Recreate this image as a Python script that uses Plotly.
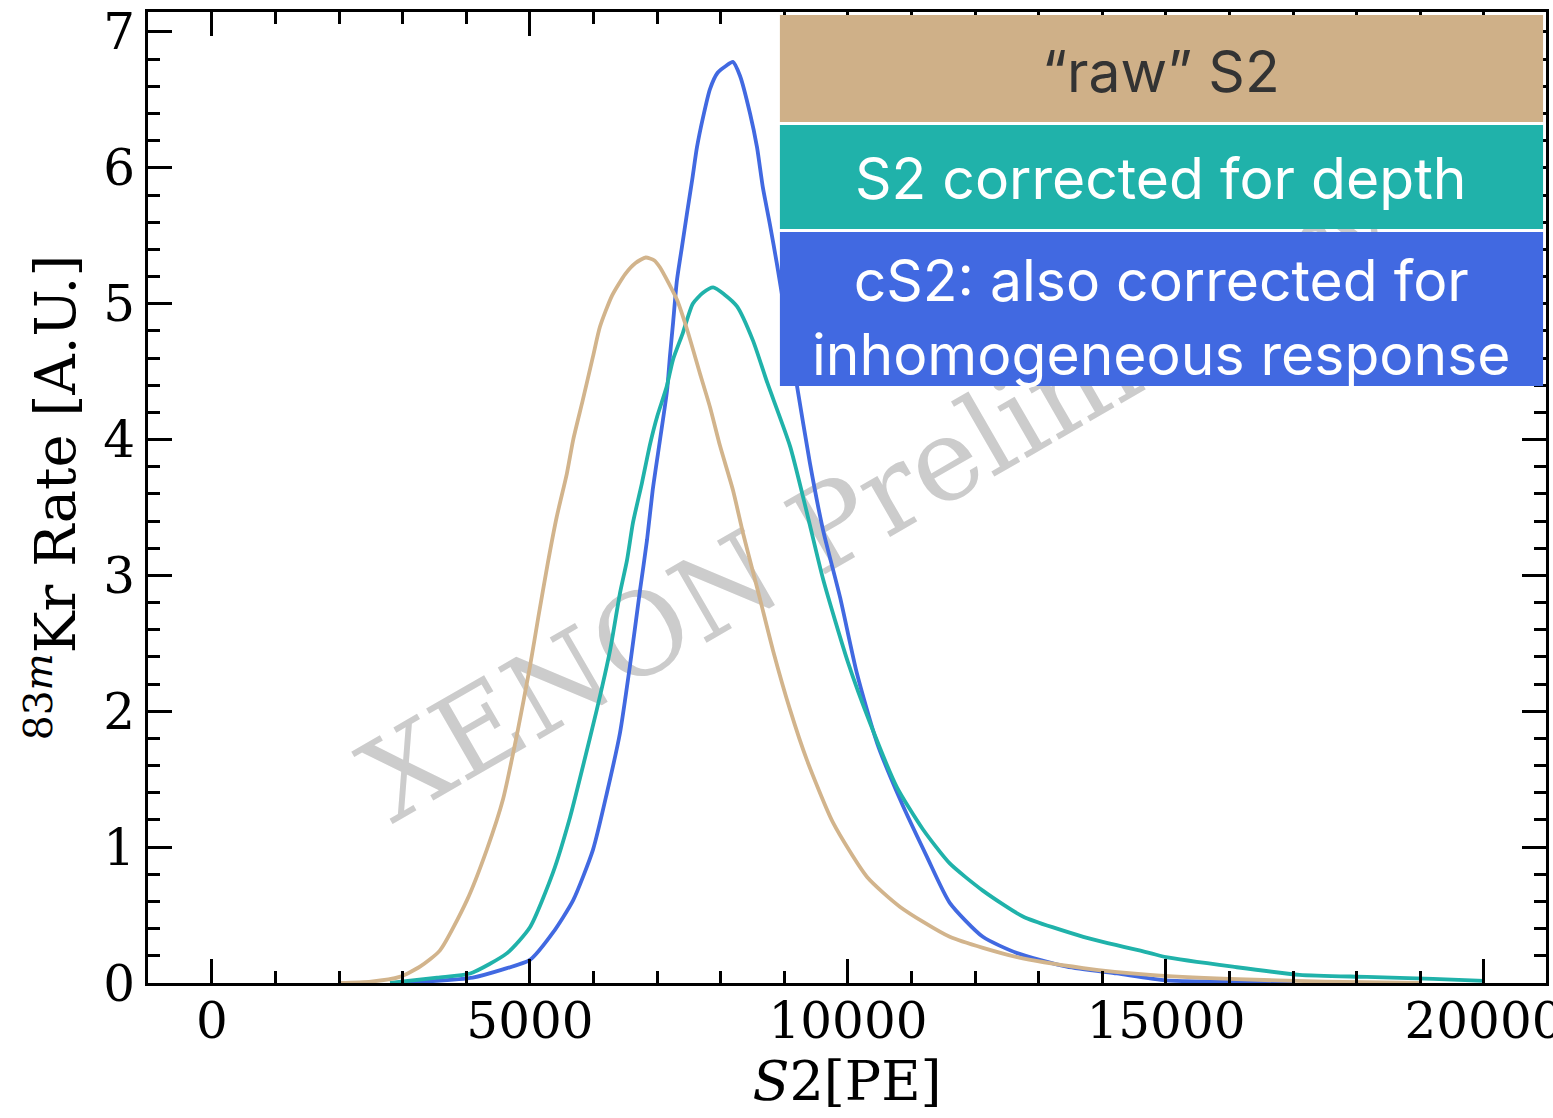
import plotly.graph_objects as go

# ---- data ----
raw_x = [2000, 2500, 2950, 3270, 3585, 4010, 4320, 4575, 4800, 5000, 5130, 5280, 5420, 5580, 5680,
         5830, 5990, 6100, 6290, 6500, 6660, 6820, 6950, 7040, 7310, 7470, 7670, 7830, 7990, 8190, 8350, 8510,
         8620, 8820, 9090, 9355, 9765, 10300, 10820, 11600, 12660, 13700, 14750, 16000, 17500, 19000]
raw_y = [0.0, 0.01, 0.045, 0.12, 0.24, 0.61, 0.98, 1.35, 1.84, 2.33, 2.69, 3.09, 3.43, 3.75, 4.0,
         4.29, 4.61, 4.83, 5.06, 5.22, 5.30, 5.34, 5.32, 5.27, 5.03, 4.81, 4.49, 4.24, 3.95, 3.63, 3.31, 3.02,
         2.82, 2.45, 2.01, 1.64, 1.18, 0.78, 0.56, 0.34, 0.19, 0.11, 0.06, 0.03, 0.01, 0.0]

depth_x = [2800, 3540, 4060, 4640, 5000, 5360, 5630, 5830, 6050, 6260, 6415, 6525, 6620, 6760, 6890,
           7000, 7150, 7250, 7400, 7560, 7720, 7880, 8050, 8255, 8505, 8730, 9090, 9355, 9610, 10000, 10350,
           10770, 11180, 11600, 12120, 12750, 13700, 14750, 15000, 16050, 17100, 18160, 19200, 20000]
depth_y = [0.0, 0.04, 0.07, 0.22, 0.41, 0.81, 1.22, 1.59, 2.01, 2.45, 2.87, 3.11, 3.39, 3.68, 3.97,
           4.17, 4.39, 4.59, 4.78, 5.0, 5.08, 5.12, 5.07, 4.98, 4.73, 4.42, 3.95, 3.46, 2.97, 2.36, 1.91,
           1.44, 1.13, 0.88, 0.68, 0.49, 0.34, 0.22, 0.19, 0.12, 0.06, 0.045, 0.03, 0.015]

cs2_x = [3000, 4100, 4575, 5000, 5360, 5680, 5990, 6210, 6415, 6570, 6730, 6840, 6930, 7045, 7155,
         7200, 7250, 7310, 7390, 7470, 7550, 7625, 7720, 7830, 7950, 8080, 8190, 8300, 8460, 8570, 8660,
         8770, 8880, 9200, 9400, 9610, 9875, 10140, 10455, 10820, 11240, 11600, 12120, 12660,
         13440, 14230, 15000, 16000, 17000]
cs2_y = [0.0, 0.04, 0.10, 0.17, 0.37, 0.61, 0.98, 1.40, 1.84, 2.33, 2.89, 3.26, 3.63, 4.0, 4.36,
         4.61, 4.86, 5.17, 5.42, 5.67, 5.91, 6.15, 6.37, 6.58, 6.70, 6.75, 6.78, 6.68, 6.40, 6.15, 5.86,
         5.59, 5.30, 4.39, 3.83, 3.33, 2.84, 2.28, 1.77, 1.35, 0.93, 0.59, 0.34, 0.22,
         0.12, 0.07, 0.02, 0.01, 0.0]

x_ticks = [0, 5000, 10000, 15000, 20000]
y_ticks = [0, 1, 2, 3, 4, 5, 6, 7]

TAN = "#D2B48C"
TEAL = "#20B2AA"
BLUE = "#4169E1"
SERIF = "DejaVu Serif"
SANS = "Inter"

fig = go.Figure()
line_kw = dict(width=3.8, shape="spline", smoothing=0.6)
fig.add_trace(go.Scatter(x=cs2_x, y=cs2_y, mode="lines", line=dict(color=BLUE, **line_kw),
                         name="cS2: also corrected for inhomogeneous response"))
fig.add_trace(go.Scatter(x=depth_x, y=depth_y, mode="lines", line=dict(color=TEAL, **line_kw),
                         name="S2 corrected for depth"))
fig.add_trace(go.Scatter(x=raw_x, y=raw_y, mode="lines", line=dict(color=TAN, **line_kw),
                         name="“raw” S2"))

axis_common = dict(
    showline=True, linecolor="black", linewidth=3, mirror="ticks",
    ticks="inside", ticklen=24, tickwidth=3, tickcolor="black",
    showgrid=False, zeroline=False, ticklabeloverflow="allow", automargin=False,
    tickfont=dict(family=SERIF, size=50, color="black"),
)

fig.update_xaxes(
    range=[-1006, 20975], tickvals=x_ticks, ticktext=[str(v) for v in x_ticks],
    minor=dict(dtick=1000, tick0=0, ticks="inside", ticklen=12, tickwidth=3, tickcolor="black"),
    title=dict(text="<i>S</i>2[PE]", font=dict(family=SERIF, size=54, color="black"), standoff=4),
    ticklabelstandoff=-8,
    **axis_common,
)
fig.update_yaxes(
    range=[0, 7.147], tickvals=y_ticks, ticktext=[str(v) for v in y_ticks],
    minor=dict(dtick=0.2, tick0=0, ticks="inside", ticklen=12, tickwidth=3, tickcolor="black"),
    title=dict(text="<sup>83<i>m</i></sup>Kr Rate [A.U.]", font=dict(family=SERIF, size=56, color="black"),
               standoff=10),
    **axis_common,
)

# watermark, below traces
fig.add_shape(type="rect", xref="paper", yref="paper", x0=0.51, x1=0.53, y0=0.497, y1=0.517,
              line=dict(width=0), fillcolor="rgba(0,0,0,0)", layer="below",
              label=dict(text="XENON Preliminary", textangle=-30, textposition="middle center",
                         font=dict(family=SERIF, size=114, color="#cccccc")))

# legend boxes
boxes = [
    (0.8867, 0.9969, "#CFB088"),
    (0.7765, 0.8836, TEAL),
    (0.6148, 0.7734, BLUE),
]
for y0, y1, c in boxes:
    fig.add_shape(type="rect", xref="paper", yref="paper", x0=0.452, x1=0.9979, y0=y0, y1=y1,
                  fillcolor=c, line=dict(width=0), layer="above")

ann_kw = dict(xref="paper", yref="paper", x=0.7245, showarrow=False, xanchor="center", yanchor="middle")
fig.add_annotation(y=0.939, text="“raw” S2", font=dict(family=SANS, size=57, color="#333333"), **ann_kw)
fig.add_annotation(y=0.829, text="S2 corrected for depth", font=dict(family=SANS, size=57, color="white"), **ann_kw)
fig.add_annotation(y=0.685, text="cS2: also corrected for<br>inhomogeneous response",
                   font=dict(family=SANS, size=57, color="white"), **ann_kw)

fig.update_layout(
    width=1553, height=1118,
    margin=dict(l=148, r=7, t=12, b=135),
    paper_bgcolor="white", plot_bgcolor="white",
    showlegend=False,
)

fig.write_html("out.html")
